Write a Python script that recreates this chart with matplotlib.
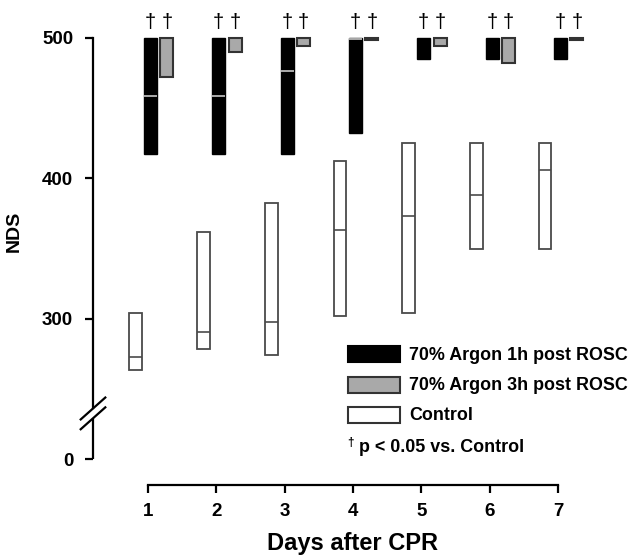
"""
plot.py
───────
NDS per day after CPR: floating range boxes (min–max) with a median line
for the two argon groups and control, broken y axis below 300.
"""

import matplotlib
matplotlib.use("Agg")
import matplotlib.pyplot as plt
from matplotlib.patches import Rectangle
from matplotlib.transforms import blended_transform_factory
import numpy as np

plt.rcParams["font.family"] = ["Liberation Sans", "DejaVu Sans"]
plt.rcParams["font.weight"] = "bold"

# ─── Data ─────────────────────────────────────────────────────────────────────
days = [1, 2, 3, 4, 5, 6, 7]

argon1h_low = [417, 417, 417, 432, 485, 485, 485]
argon1h_med = [459, 459, 476.5, 499, 500, 500, 500]
argon1h_high = [500, 500, 500, 500, 500, 500, 500]

argon3h_low = [472.5, 490, 494.5, 498.3, 494.5, 482.5, 498.3]
argon3h_med = [500, 500, 500, 500, 500, 500, 500]
argon3h_high = [500, 500, 500, 500, 500, 500, 500]

control_low = [263.7, 278.6, 273.9, 301.7, 304, 349.6, 349.6]
control_med = [272.7, 290.3, 297.6, 363, 373.3, 388.3, 405.8]
control_high = [304, 362, 382.3, 412, 425, 425, 425]

sig_1h = [True] * 7
sig_3h = [True] * 7

y_ticks = [200, 300, 400, 500]
y_ticklabels = ["0", "300", "400", "500"]

legend_labels = ["70% Argon 1h post ROSC", "70% Argon 3h post ROSC", "Control"]
footnote = "p < 0.05 vs. Control"

# ─── Figure ───────────────────────────────────────────────────────────────────
W, H = 632, 556
fig = plt.figure(figsize=(W / 100, H / 100), dpi=100)
ax = fig.add_axes([93 / W, 1 - 459 / H, 507 / W, 421 / H])
ax.set_xlim(1 - 55 / 68.33, 7.615)
ax.set_ylim(200, 500)

BOX_W = 0.19
OFF_CTRL, OFF_1H, OFF_3H = -0.19, 0.035, 0.275
GREY = "#a9a9a9"
EDGE = "#4a4a4a"


def draw_boxes(xs, low, med, high, face, edge, med_color, lw=1.3):
    xs = np.asarray(xs, float)
    low = np.asarray(low, float)
    med = np.asarray(med, float)
    high = np.asarray(high, float)
    ax.bar(xs, high - low, bottom=low, width=BOX_W, color=face,
           edgecolor=edge, linewidth=lw, clip_on=False, zorder=3)
    inside = (med > low) & (med < high)
    ax.hlines(med[inside], xs[inside] - BOX_W / 2, xs[inside] + BOX_W / 2,
              colors=med_color, linewidth=1.2, zorder=4, clip_on=False)


x = np.asarray(days, float)
draw_boxes(x + OFF_CTRL, control_low, control_med, control_high,
           "white", EDGE, EDGE)
draw_boxes(x + OFF_1H, argon1h_low, argon1h_med, argon1h_high,
           "black", "black", "#c8c8c8", lw=1.0)
draw_boxes(x + OFF_3H, argon3h_low, argon3h_med, argon3h_high,
           GREY, "#333333", "#333333", lw=1.5)

# significance daggers
for xs, flags in ((x + OFF_1H, sig_1h), (x + OFF_3H, sig_3h)):
    for xi, f in zip(xs, flags):
        if f:
            ax.annotate("†", (xi, 500), xytext=(0, 4),
                        textcoords="offset points", ha="center", va="bottom",
                        fontsize=14.5, fontweight="normal",
                        annotation_clip=False)

# ─── Axes styling ─────────────────────────────────────────────────────────────
for s in ("top", "right"):
    ax.spines[s].set_visible(False)
ax.spines["left"].set_linewidth(1.6)
ax.spines["bottom"].set_linewidth(1.6)
ax.spines["left"].set_bounds(236, 500)
ax.spines["bottom"].set_position(("outward", 18.7))
ax.spines["bottom"].set_bounds(1, 7)

ax.set_yticks(y_ticks)
ax.set_yticklabels(y_ticklabels)
ax.set_xticks(days)
ax.tick_params(axis="y", direction="out", length=5.8, width=1.6, pad=8.5,
               labelsize=13.5)
ax.tick_params(axis="x", direction="out", length=5.8, width=1.6, pad=7,
               labelsize=13.5)

# broken y axis: lower stub and the two slashes
x0 = ax.get_xlim()[0]
ax.plot([x0, x0], [200, 229], color="black", lw=1.6, clip_on=False,
        solid_capstyle="butt")
for yc in (236, 229):
    ax.plot([x0 - 0.18, x0 + 0.18], [yc - 7.8, yc + 7.8], color="black",
            lw=1.6, clip_on=False)

ax.set_ylabel("NDS", fontsize=14, fontweight="bold")
ax.yaxis.set_label_coords(-0.138, 0.54)
ax.set_xlabel("Days after CPR", fontsize=17, fontweight="bold")
ax.xaxis.set_label_coords(
    4, 1 - 532 / H, transform=blended_transform_factory(ax.transData, fig.transFigure))

# ─── Legend (drawn by hand, figure pixels) ────────────────────────────────────
faces = ["black", GREY, "white"]
edges = ["black", "#333333", "#333333"]
for i, (lab, fc, ec) in enumerate(zip(legend_labels, faces, edges)):
    yc = 354 + i * 30.5
    fig.add_artist(Rectangle((348 / W, 1 - (yc + 8) / H), 52 / W, 16 / H,
                             transform=fig.transFigure, facecolor=fc,
                             edgecolor=ec, linewidth=1.5))
    fig.text(409 / W, 1 - (yc + 1) / H, lab, fontsize=12.9, fontweight="bold",
             va="center", ha="left")
fig.text(347 / W, 1 - 443 / H, "†", fontsize=8.5, fontweight="bold",
         va="center", ha="left")
fig.text(359 / W, 1 - 448 / H, footnote, fontsize=12.9, fontweight="bold",
         va="center", ha="left")

fig.savefig("out.png", dpi=100)
